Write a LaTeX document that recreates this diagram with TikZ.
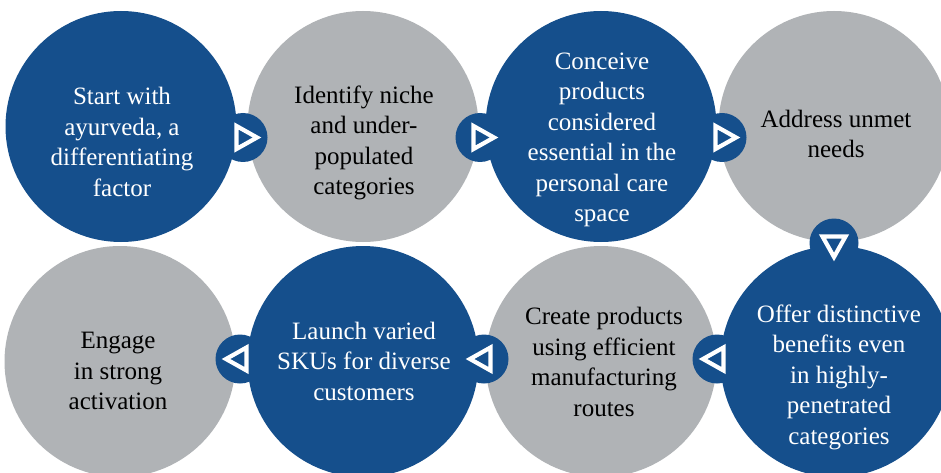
\documentclass[tikz,border=0pt]{standalone}
\usepackage{fontspec}
\setmainfont{Liberation Serif}
\definecolor{myblue}{HTML}{154F8C}
\definecolor{mygray}{HTML}{B0B3B6}
\tikzset{
  bigcirc/.style={circle,minimum size=231pt,inner sep=0pt,draw=none},
  bluec/.style={bigcirc,fill=myblue},
  grayc/.style={bigcirc,fill=mygray},
  txt/.style={align=center,inner sep=0pt,font=\fontsize{25}{30.5}\selectfont},
  wtxt/.style={txt,text=white},
  ktxt/.style={txt,text=black},
  joint/.style={circle,fill=myblue,minimum size=49pt,inner sep=0pt,draw=none},
  tristyle/.style={draw=white,fill=myblue,line width=4.2pt,line join=miter},
  triR/.pic={\path[tristyle] (-6.5,-11.5) -- (14,0) -- (-6.5,11.5) -- cycle;},
  triL/.pic={\path[tristyle] (6.5,-11.5) -- (-14,0) -- (6.5,11.5) -- cycle;},
  triD/.pic={\path[tristyle] (-11.5,-6.5) -- (0,14) -- (11.5,-6.5) -- cycle;}
}
\begin{document}
\begin{tikzpicture}[x=1pt,y=-1pt]
\useasboundingbox (0,0) rectangle (941,473);
\clip (0,0) rectangle (941,473);
\fill[white] (0,0) rectangle (941,473);
% big circles
\node[bluec] (c1) at (121,126.5) {};
\node[grayc] (c2) at (363,126.5) {};
\node[bluec] (c3) at (601,126.5) {};
\node[grayc] (c4) at (834,126.5) {};
\node[grayc] (c5) at (120,361.5) {};
\node[bluec] (c6) at (363,361.5) {};
\node[grayc] (c7) at (601,361.5) {};
\node[bluec] (c8) at (836,361.5) {};
% texts
\node[wtxt] (t1) at (122,142) {Start with\\ayurveda, a\\differentiating\\factor};
\node[ktxt] (t2) at (364,143) {Identify niche\\and under-\\populated\\categories};
\node[wtxt] (t3) at (602,140) {Conceive\\products\\considered\\essential in the\\personal care\\space};
\node[ktxt] (t4) at (836,134) {Address unmet\\needs};
\node[ktxt] (t5) at (118,371) {Engage\\in strong\\activation};
\node[wtxt] (t6) at (364,361) {Launch varied\\SKUs for diverse\\customers};
\node[ktxt] (t7) at (604,362) {Create products\\using efficient\\manufacturing\\routes};
\node[wtxt] (t8) at (839,377) {Offer distinctive\\benefits even\\in highly-\\penetrated\\categories};
% connectors
\node[joint] (j12) at (243,137.5) {};
\node[joint] (j23) at (480,137.5) {};
\node[joint] (j34) at (722,137.5) {};
\node[joint] (j48) at (834,243) {};
\node[joint] (j87) at (717,359) {};
\node[joint] (j76) at (484,359) {};
\node[joint] (j65) at (240,359) {};
\pic at (j12) {triR};
\pic at (j23) {triR};
\pic at (j34) {triR};
\pic at (j48) {triD};
\pic at (j87) {triL};
\pic at (j76) {triL};
\pic at (j65) {triL};
\end{tikzpicture}
\end{document}
